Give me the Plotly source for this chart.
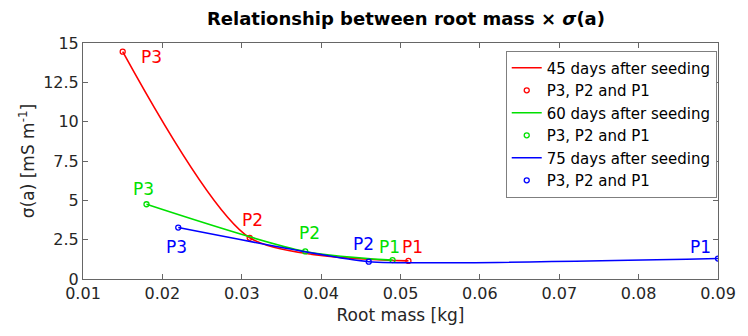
import plotly.graph_objects as go

# Data (root mass [kg], sigma(a) [mS m^-1]) for P3, P2, P1
x45 = [0.015, 0.031, 0.051]
y45 = [14.45, 2.62, 1.15]
x60 = [0.018, 0.038, 0.049]
y60 = [4.75, 1.75, 1.2]
x75 = [0.022, 0.046, 0.090]
y75 = [3.27, 1.1, 1.3]
point_labels = ["P3", "P2", "P1"]

series = [
    ("45 days after seeding", x45, y45, "#ff0000", 0.7),
    ("60 days after seeding", x60, y60, "#00e000", 0.8),
    ("75 days after seeding", x75, y75, "#0000ff", 0.4),
]

# label pixel offsets (style only)
label_offsets = {
    "45 days after seeding": [(29, -5), (3, 18), (4, 14)],
    "60 days after seeding": [(-3, 15), (4, 18), (-3, 13)],
    "75 days after seeding": [(-2, -19), (-5, 18), (-18, 12)],
}

FONT = "DejaVu Sans, Liberation Sans, Arial"

fig = go.Figure()
annotations = []
for name, xs, ys, col, sm in series:
    fig.add_trace(go.Scatter(x=xs, y=ys, mode="lines",
                             line=dict(color=col, width=1.6, shape="spline", smoothing=sm),
                             name=name))
    fig.add_trace(go.Scatter(x=xs, y=ys, mode="markers",
                             marker=dict(symbol="circle-open", size=5, color=col, line=dict(width=1.3)),
                             name="P3, P2 and P1"))
    for (xv, yv, lab, (dx, dy)) in zip(xs, ys, point_labels, label_offsets[name]):
        annotations.append(dict(x=xv, y=yv, text=lab, showarrow=False, xshift=dx, yshift=dy,
                                font=dict(color=col, size=17, family=FONT)))

fig.update_layout(
    width=748, height=336,
    margin=dict(l=83, r=19, t=43, b=57),
    paper_bgcolor="white", plot_bgcolor="white",
    font=dict(family=FONT, size=16, color="#262626"),
    title=dict(text="<b>Relationship between root mass × <i>σ</i>(a)</b>", x=0.5427, xanchor="center",
               y=0.945, yanchor="middle", font=dict(size=18, color="#000000", family=FONT)),
    annotations=annotations,
    showlegend=True,
    legend=dict(x=0.998, xanchor="right", y=0.968, yanchor="top",
                bordercolor="#7f7f7f", borderwidth=1, bgcolor="white",
                font=dict(size=15, color="#000000", family=FONT), tracegroupgap=0,
                itemwidth=30),
    xaxis=dict(range=[0.01, 0.09], tickvals=[0.01, 0.02, 0.03, 0.04, 0.05, 0.06, 0.07, 0.08, 0.09],
               ticktext=["0.01", "0.02", "0.03", "0.04", "0.05", "0.06", "0.07", "0.08", "0.09"],
               ticks="inside", ticklen=5, tickcolor="#666", showline=True, linecolor="#666", linewidth=1,
               mirror="ticks", showgrid=False, zeroline=False,
               title=dict(text="Root mass [kg]", standoff=6, font=dict(size=17)),
               tickfont=dict(size=16)),
    yaxis=dict(range=[0, 15], tickvals=[0, 2.5, 5, 7.5, 10, 12.5, 15],
               ticktext=["0", "2.5", "5", "7.5", "10", "12.5", "15"],
               ticks="inside", ticklen=5, tickcolor="#666", showline=True, linecolor="#666", linewidth=1,
               mirror="ticks", showgrid=False, zeroline=False,
               title=dict(text="σ(a) [mS m<sup>-1</sup>]", standoff=4, font=dict(size=17)),
               tickfont=dict(size=16)),
)

fig.write_html("out.html")
